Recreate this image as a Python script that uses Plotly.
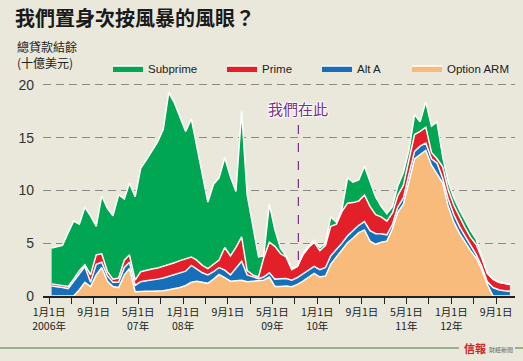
import plotly.graph_objects as go

# ---------------- data (US$ billions, mid-month points) ----------------
months = [f"{2006 + k // 12}-{k % 12 + 1:02d}-15" for k in range(83)]

option_arm = [0, 0, 0, 0, 0, 0.6, 1.3, 0.9, 2.0, 2.7,
              1.4, 0.9, 0.8, 2.0, 2.6, 0.4, 0.45, 0.45, 0.45, 0.45,
              0.5, 0.6, 0.7, 0.8, 1.0, 1.3, 1.4, 1.3, 1.2, 1.6,
              2.05, 1.75, 1.4, 1.45, 1.5, 1.35, 1.4, 1.4, 1.5, 1.8,
              0.9, 0.9, 0.95, 0.88, 1.1, 1.4, 1.8, 2.15, 1.8, 1.9,
              3.0, 3.7, 4.4, 5.05, 5.5, 6.0, 6.26, 5.2, 4.9, 5.1,
              5.2, 6.4, 7.9, 8.7, 10.8, 13.0, 13.4, 13.8, 12.4, 11.5,
              10.7, 8.5, 7.0, 5.94, 5.1, 4.3, 3.6, 2.5, 1.1, 0,
              0, 0, 0]

alt_a = [0.95, 0.9, 0.8, 0.7, 1.4, 1.6, 1.5, 0.4, 1.0, 0.5,
         0.5, 0.4, 0.5, 0.7, 0.6, 0.6, 0.9, 1.0, 1.05, 1.15,
         1.2, 1.25, 1.3, 1.35, 1.35, 1.6, 1.2, 0.9, 0.8, 0.7,
         0.65, 0.7, 0.6, 1.15, 1.8, 0.65, 0.4, 0.25, 0.3, 0.4,
         0.7, 0.7, 0.7, 0.62, 0.65, 0.7, 0.7, 0.65, 0.7, 0.8,
         0.8, 0.7, 0.6, 0.65, 0.7, 0.7, 0.79, 1.0, 1.0, 0.8,
         0.6, 0.4, 0.5, 0.6, 0.7, 0.7, 0.8, 0.7, 0.6, 1.1,
         0.45, 0.7, 0.7, 0.63, 0.6, 0.5, 0.35, 0.3, 0.25, 0.8,
         0.6, 0.5, 0.45]

prime = [0.2, 0.15, 0.15, 0.2, 0.2, 0.2, 0.15, 0.7, 0.9, 0.8,
         0.4, 0.3, 0.4, 0.7, 0.7, 0.5, 0.95, 1.0, 1.05, 1.05,
         1.1, 1.1, 1.15, 1.2, 1.2, 0.8, 0.8, 0.7, 0.6, 0.7,
         0.7, 2.15, 1.8, 2.0, 2.3, 0.4, 0.2, 0.15, 1.8, 2.9,
         3.1, 2.4, 2.05, 1.0, 1.05, 1.8, 2.1, 2.3, 1.8, 2.1,
         2.8, 2.4, 3.0, 3.1, 2.65, 2.3, 2.52, 2.3, 1.8, 1.6,
         1.3, 1.1, 1.1, 1.2, 1.5, 1.6, 1.4, 1.5, 0.6, 0.4,
         1.1, 0.9, 0.9, 0.93, 0.8, 0.75, 0.95, 0.8, 0.8, 0.8,
         0.7, 0.7, 0.65]

subprime = [3.4, 3.6, 3.85, 5.1, 5.5, 4.4, 5.45, 5.6, 2.7, 5.5,
            6.0, 6.0, 7.9, 5.8, 6.8, 7.9, 9.8, 10.45, 11.25, 11.95,
            13.0, 16.35, 15.15, 13.65, 12.05, 13.1, 10.8, 8.8, 6.3, 7.6,
            7.8, 8.5, 7.5, 5.3, 11.9, 7.2, 4.5, 1.9, 0.2, 3.6,
            1.6, 0.5, 0.1, 0.1, 0.05, 0.1, 0.15, 0.2, 0.3, 0.2,
            0.9, 0.2, 0.2, 2.4, 1.95, 2.0, 2.73, 2.3, 1.7, 1.0,
            0.7, 0.6, 0.9, 1.2, 0.8, 1.9, 0.9, 2.4, 2.5, 3.5,
            0.95, 0.7, 0.7, 0.65, 0.7, 0.65, 0.5, 0.1, 0.05, 0,
            0, 0, 0]

tick_dates = [f"{2006 + (4 * i) // 12}-{(4 * i) % 12 + 1:02d}-01" for i in range(21)]
tick_labels = ["1月1日<br>2006年", "", "9月1日", "", "5月1日<br>07年", "",
               "1月1日<br>08年", "", "9月1日", "", "5月1日<br>09年", "",
               "1月1日<br>10年", "", "9月1日", "", "5月1日<br>11年", "",
               "1月1日<br>12年", "", "9月1日"]

marker_date = "2009-09-20"

BG = "#e9e8da"
CJK = "Noto Sans CJK TC, Noto Sans CJK SC, sans-serif"
LAT = "Liberation Sans, Arial, sans-serif"

series = [
    ("Option ARM", option_arm, "#f8bb7c", "legend4"),
    ("Alt A", alt_a, "#166fb8", "legend3"),
    ("Prime", prime, "#e3202a", "legend2"),
    ("Subprime", subprime, "#00a651", "legend"),
]

fig = go.Figure()
for name, vals, color, leg in series:
    fig.add_trace(go.Scatter(
        x=months, y=vals, name=name, mode="lines", stackgroup="one",
        fillcolor=color, line=dict(color="white", width=1.5),
        legend=leg, hoverinfo="skip"))

# plot area: x 43..515 px, y 80..296 px
def lx(px):
    return (px - 43) / 472.0

def py(pxy):
    return (296 - pxy) / 216.0

leg_common = dict(orientation="h", yanchor="middle", xanchor="left",
                  y=py(68), bgcolor="rgba(0,0,0,0)", borderwidth=0,
                  font=dict(family=LAT, size=11.5, color="#222"),
                  itemclick=False, itemdoubleclick=False)
text_starts = {"legend": 148, "legend2": 262, "legend3": 357, "legend4": 447}

fig.update_layout(
    width=523, height=361,
    paper_bgcolor=BG, plot_bgcolor=BG,
    margin=dict(l=43, r=8, t=80, b=65, autoexpand=False),
    showlegend=True,
    title=dict(text="<b>我們置身次按風暴的風眼？</b>", x=15 / 523, xanchor="left",
               y=1 - 19 / 361, yanchor="middle",
               font=dict(family=CJK, size=20, color="#1a1a1a")),
    xaxis=dict(type="date", range=["2005-11-29", "2012-12-13"],
               tickmode="array", tickvals=tick_dates, ticktext=tick_labels,
               ticks="outside", ticklen=6, tickcolor="#222", tickwidth=1,
               showline=True, linecolor="#222", linewidth=1.5,
               showgrid=False, zeroline=False,
               tickfont=dict(family=CJK, size=10.5, color="#222")),
    yaxis=dict(range=[0, 20.47], tickmode="array", tickvals=[0, 5, 10, 15, 20],
               showgrid=True, gridcolor="#8a8a8a", griddash="8px,5px", gridwidth=1,
               zeroline=False, showline=False, ticks="",
               ticklabelstandoff=8,
               tickfont=dict(family=LAT, size=14, color="#333")),
)
for leg, tx in text_starts.items():
    fig.update_layout({leg: dict(leg_common, x=lx(tx - 40))})

# y-axis title (two lines)
fig.add_annotation(text="總貸款結餘<br>(十億美元)", xref="paper", yref="paper",
                   x=lx(15), y=py(54.5), align="left",
                   xanchor="left", yanchor="middle", showarrow=False,
                   font=dict(family=CJK, size=12, color="#222"))

# "we are here" marker
fig.add_shape(type="line", xref="x", yref="y", x0=marker_date, x1=marker_date,
              y0=3.4, y1=16.5, line=dict(color="#7a2f86", width=1.2, dash="dash"))
fig.add_annotation(text="我們在此", xref="x", yref="paper", x=marker_date, y=py(108),
                   xanchor="center", yanchor="middle", showarrow=False,
                   font=dict(family=CJK, size=15, color="#7a2f86",
                             shadow="1px 1px 1px white, -1px -1px 1px white, 1px -1px 1px white, -1px 1px 1px white"))

# footer rule and source logo
fig.add_shape(type="line", xref="paper", yref="paper", x0=lx(0), x1=lx(459),
              y0=py(348), y1=py(348), line=dict(color="#3f7f45", width=1))
fig.add_shape(type="line", xref="paper", yref="paper", x0=lx(515), x1=lx(523),
              y0=py(348), y1=py(348), line=dict(color="#3f7f45", width=1))
fig.add_annotation(text="<b>信報</b>", xref="paper", yref="paper", x=lx(462), y=py(348),
                   xanchor="left", yanchor="middle", showarrow=False,
                   font=dict(family=CJK, size=11, color="#d0202a"))
fig.add_annotation(text="財經新聞", xref="paper", yref="paper", x=lx(487), y=py(349),
                   xanchor="left", yanchor="middle", showarrow=False,
                   font=dict(family=CJK, size=6, color="#666"))

fig.write_html(
    "out.html",
    config={"displayModeBar": False, "staticPlot": True},
    post_script="document.body.style.margin='0';document.body.style.overflow='hidden';"
                "document.body.style.background='" + BG + "';",
)
